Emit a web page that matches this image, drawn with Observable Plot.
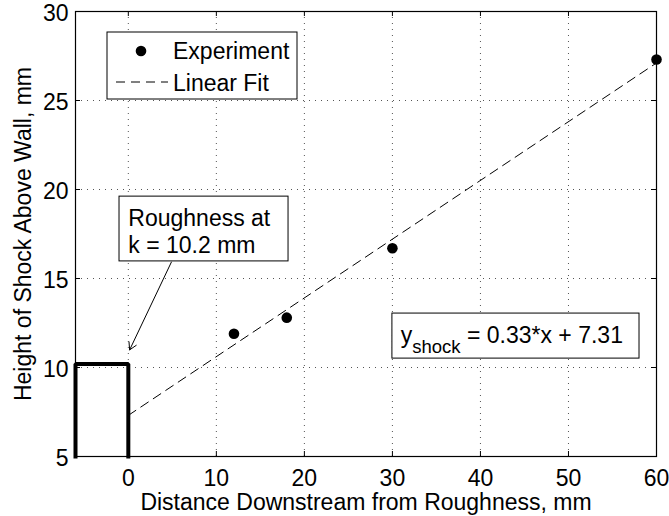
<!DOCTYPE html>
<html><head><meta charset="utf-8">
<script src="https://cdn.jsdelivr.net/npm/d3@7"></script>
<script src="https://cdn.jsdelivr.net/npm/@observablehq/plot@0.6"></script>
<style>html,body{margin:0;padding:0;background:#fff;} svg{display:block}</style>
</head><body><div id="chart"></div>
<script>
// ---- data ----
const expX = [12, 18, 30, 60];
const expY = [11.9, 12.8, 16.7, 27.3];
const fitX = [0, 60];
const fitY = [7.31, 27.11];
const roughX = [-6, -6, 0, 0];
const roughY = [5, 10.2, 10.2, 5];
const xTicks = [0, 10, 20, 30, 40, 50, 60];
const yTicks = [5, 10, 15, 20, 25, 30];
const xLabel = "Distance Downstream from Roughness, mm";
const yLabel = "Height of Shock Above Wall, mm";
const roughLabel = "Roughness at\nk = 10.2 mm";
const legendLabels = ["Experiment", "Linear Fit"];
const eqMain = "y", eqSub = "shock", eqRest = " = 0.33*x + 7.31";

// ---- layout ----
const W = 669, H = 516, mL = 75, mR = 13, mT = 11, mB = 60;
const innerW = W - mL - mR, innerH = H - mT - mB;
const font = "'Liberation Sans', Arial, Helvetica, sans-serif";

const expData = expX.map((x, i) => ({x, y: expY[i]}));
const fitData = fitX.map((x, i) => ({x, y: fitY[i]}));
const roughData = roughX.map((x, i) => ({x, y: roughY[i]}));

const grid = {stroke: "#555", strokeWidth: 1, strokeDasharray: "1,5"};

const chart = Plot.plot({
  width: W, height: H,
  marginLeft: mL, marginRight: mR, marginTop: mT, marginBottom: mB,
  style: {fontFamily: font, fontSize: "23px", background: "#fff", color: "#000", overflow: "visible"},
  x: {domain: [-6, 60]},
  y: {domain: [5, 30]},
  marks: [
    Plot.ruleX(xTicks, {x: d => d, ...grid}),
    Plot.ruleY(yTicks, {y: d => d, ...grid}),
    Plot.tickX(xTicks, {x: d => d, insetTop: innerH - 5, stroke: "#000"}),
    Plot.tickX(xTicks, {x: d => d, insetBottom: innerH - 5, stroke: "#000"}),
    Plot.tickY(yTicks, {y: d => d, insetRight: innerW - 5, stroke: "#000"}),
    Plot.tickY(yTicks, {y: d => d, insetLeft: innerW - 5, stroke: "#000"}),
    Plot.line(fitData, {x: "x", y: "y", stroke: "#000", strokeWidth: 1, strokeDasharray: "9,6"}),
    Plot.dot(expData, {x: "x", y: "y", r: 5.3, fill: "#000", stroke: null}),
    Plot.line(roughData, {x: "x", y: "y", stroke: "#000", strokeWidth: 4, strokeLinejoin: "miter", strokeLinecap: "square"}),
    // roughness annotation
    Plot.rect([{x1: -1.0, x2: 18.2, y1: 15.96, y2: 19.6}], {x1: "x1", x2: "x2", y1: "y1", y2: "y2", fill: "#fff", stroke: "#000", strokeWidth: 1}),
    Plot.text([{x: 0, y: 19.0, t: roughLabel}], {x: "x", y: "y", text: "t", textAnchor: "start", lineAnchor: "top", lineHeight: 1.17, fill: "#000"}),
    Plot.arrow([{x1: 4.89, y1: 15.92, x2: 0.15, y2: 10.99}], {x1: "x1", y1: "y1", x2: "x2", y2: "y2", stroke: "#000", strokeWidth: 1, headLength: 12}),
    // equation box
    Plot.rect([{x1: 30.0, x2: 58.07, y1: 10.5, y2: 13.03}], {x1: "x1", x2: "x2", y1: "y1", y2: "y2", fill: "#fff", stroke: "#000", strokeWidth: 1}),
    Plot.frame({stroke: "#000", strokeWidth: 1.2}),
    Plot.axisX({ticks: xTicks, tickSize: 0, tickPadding: 13, label: null, fill: "#000"}),
    Plot.axisY({ticks: yTicks, tickSize: 0, tickPadding: 7, dy: 2, label: null, fill: "#000"}),
    Plot.text([xLabel], {frameAnchor: "bottom", dy: 46, lineAnchor: "middle", textAnchor: "middle", text: d => d, fill: "#000"}),
    Plot.text([yLabel], {frameAnchor: "left", dx: -52, rotate: -90, lineAnchor: "middle", textAnchor: "middle", text: d => d, fill: "#000"})
  ]
});
document.getElementById("chart").appendChild(chart);

// ---- legend & equation overlays ----
const svg = d3.select(chart);
const sx = chart.scale("x"), sy = chart.scale("y");

// equation text
const eq = svg.append("text")
  .attr("x", sx.apply(31.0)).attr("y", sy.apply(11.35)).attr("text-anchor", "start")
  .attr("fill", "#000").style("font-family", font).style("font-size", "23px");
eq.append("tspan").text(eqMain);
eq.append("tspan").attr("dy", 10).style("font-size", "18.5px").text(eqSub);
eq.append("tspan").attr("dy", -10).text(eqRest);

// legend
const lg = svg.append("g").attr("text-anchor", "start").style("font-family", font).style("font-size", "23px");
lg.append("rect").attr("x", 107).attr("y", 32).attr("width", 190).attr("height", 67)
  .attr("fill", "#fff").attr("stroke", "#000").attr("stroke-width", 1);
lg.append("circle").attr("cx", 141).attr("cy", 51).attr("r", 5.3).attr("fill", "#000");
lg.append("line").attr("x1", 116).attr("x2", 168).attr("y1", 82).attr("y2", 82)
  .attr("stroke", "#000").attr("stroke-width", 1).attr("stroke-dasharray", "9,6");
lg.append("text").attr("x", 173).attr("y", 59).attr("fill", "#000").text(legendLabels[0]);
lg.append("text").attr("x", 173).attr("y", 91).attr("fill", "#000").text(legendLabels[1]);
</script>
</body></html>
